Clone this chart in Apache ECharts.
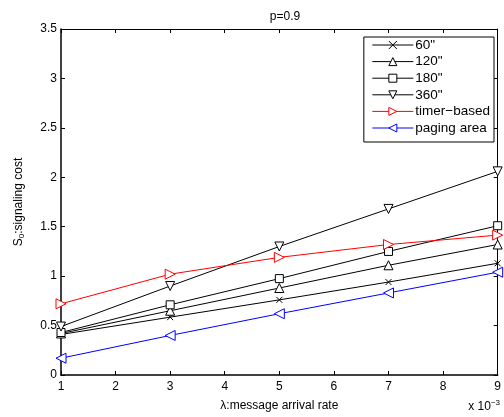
<!doctype html>
<html lang="en">
<head>
    <meta charset="UTF-8">
    <title>p=0.9</title>
    <script src="https://cdn.jsdelivr.net/npm/echarts@6/dist/echarts.min.js"></script>
    <style>
        html, body { margin: 0; padding: 0; background: #fff; }
        #main { width: 504px; height: 417px; }
    </style>
</head>
<body>
<div id="main"></div>
<script>
    // message arrival rate (x 10^-3)
    var rates = [1, 3, 5, 7, 9];
    var xTicks = [1, 2, 3, 4, 5, 6, 7, 8, 9];
    var yTicks = [0, 0.5, 1, 1.5, 2, 2.5, 3, 3.5];

    var s60 = [0.41, 0.585, 0.76, 0.94, 1.13];
    var s120 = [0.42, 0.65, 0.88, 1.11, 1.32];
    var s180 = [0.43, 0.71, 0.975, 1.25, 1.51];
    var s360 = [0.49, 0.90, 1.30, 1.68, 2.06];
    var timerBased = [0.72, 1.02, 1.19, 1.32, 1.415];
    var pagingArea = [0.17, 0.40, 0.62, 0.83, 1.04];

    var names = ['60"', '120"', '180"', '360"', 'timer\u2212based', 'paging area'];
    var colors = ['#000', '#000', '#000', '#000', '#ff0000', '#0000ff'];

    function pts(arr) {
        return rates.map(function (r, i) { return [r, arr[i]]; });
    }

    var cross = 'path://M0,0L10,10M10,0L0,10';
    var font = 'Liberation Sans, Arial, Helvetica, sans-serif';

    function mk(name, data, color, symbol, rot, size) {
        return {
            name: name,
            type: 'line',
            data: pts(data),
            symbol: symbol,
            symbolSize: size,
            symbolRotate: rot,
            showSymbol: true,
            lineStyle: { color: color, width: 1 },
            itemStyle: { color: '#fff', borderColor: color, borderWidth: 1 },
            emphasis: { disabled: true },
            animation: false
        };
    }

    var myChart = echarts.init(document.getElementById('main'));

    var tickStyle = { show: true, inside: true, length: 4, lineStyle: { color: '#000', width: 1 } };

    var legendData = names.map(function (n, i) {
        return {
            name: n,
            itemStyle: { color: '#fff', borderColor: colors[i], borderWidth: 1 },
            lineStyle: { color: colors[i], width: 1 }
        };
    });

    var option = {
        backgroundColor: '#fff',
        title: {
            text: 'p=0.9',
            left: 280,
            top: 6,
            textAlign: 'center',
            textStyle: { fontFamily: font, fontSize: 12, fontWeight: 'normal', color: '#000' }
        },
        grid: { left: 61, right: 4, top: 29, bottom: 41 },
        legend: {
            orient: 'vertical',
            right: 10,
            top: 37,
            itemWidth: 41,
            itemHeight: 10,
            itemGap: 2.6,
            padding: [1, 4, 7, 8],
            backgroundColor: '#fff',
            borderColor: '#000',
            borderWidth: 1,
            borderRadius: 0,
            textStyle: { fontFamily: font, fontSize: 13.5, lineHeight: 14, color: '#000', padding: [0, 0, 0, -3] },
            data: legendData
        },
        xAxis: [{
            type: 'value',
            min: 1,
            max: 9,
            interval: 1,
            name: '\u03bb:message arrival rate',
            nameLocation: 'middle',
            nameGap: 25,
            nameTextStyle: { fontFamily: font, fontSize: 12, color: '#000' },
            axisLine: { lineStyle: { color: '#000', width: 1.5 } },
            axisTick: tickStyle,
            axisLabel: {
                fontFamily: font, fontSize: 12, color: '#000', margin: 6,
                formatter: function (v) { return xTicks.indexOf(v) >= 0 ? String(v) : ''; }
            },
            splitLine: { show: false }
        }, {
            type: 'value',
            position: 'top',
            min: 1,
            max: 9,
            interval: 1,
            axisLine: { onZero: false, lineStyle: { color: '#000', width: 1 } },
            axisTick: tickStyle,
            axisLabel: { show: false },
            splitLine: { show: false }
        }],
        yAxis: [{
            type: 'value',
            min: 0,
            max: 3.5,
            interval: 0.5,
            name: '{a|S}{s|0}{a|:signaling cost}',
            nameLocation: 'middle',
            nameGap: 35,
            nameRotate: 90,
            nameTextStyle: {
                rich: {
                    a: { fontFamily: font, fontSize: 12, color: '#000' },
                    s: { fontFamily: font, fontSize: 8, color: '#000', verticalAlign: 'bottom', padding: [6, 0, 0, 0] }
                }
            },
            axisLine: { show: true, lineStyle: { color: '#000', width: 1.5 } },
            axisTick: tickStyle,
            axisLabel: {
                fontFamily: font, fontSize: 12, color: '#000', margin: 4,
                formatter: function (v) { return yTicks.indexOf(v) >= 0 ? String(v) : ''; }
            },
            splitLine: { show: false }
        }, {
            type: 'value',
            position: 'right',
            min: 0,
            max: 3.5,
            interval: 0.5,
            axisLine: { show: true, onZero: false, lineStyle: { color: '#000', width: 1 } },
            axisTick: tickStyle,
            axisLabel: { show: false },
            splitLine: { show: false }
        }],
        graphic: [{
            type: 'text',
            right: 4,
            bottom: 4,
            style: {
                text: '{a|x 10}{s|\u22123}',
                rich: {
                    a: { fontFamily: font, fontSize: 12, fill: '#000' },
                    s: { fontFamily: font, fontSize: 8, fill: '#000', verticalAlign: 'top', padding: [0, 0, 8, 0] }
                }
            }
        }],
        series: [
            mk(names[0], s60, colors[0], cross, 0, 6),
            mk(names[1], s120, colors[1], 'triangle', 0, 9),
            mk(names[2], s180, colors[2], 'rect', 0, 8),
            mk(names[3], s360, colors[3], 'triangle', 180, 9),
            mk(names[4], timerBased, colors[4], 'triangle', -90, 10),
            mk(names[5], pagingArea, colors[5], 'triangle', 90, 10)
        ]
    };

    myChart.setOption(option);
</script>
</body>
</html>
